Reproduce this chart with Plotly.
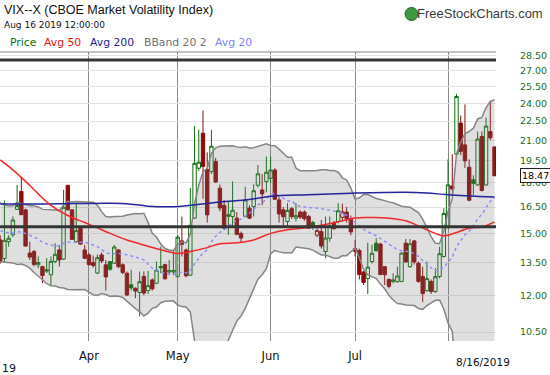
import numpy as np
import pandas as pd
import plotly.graph_objects as go

# ---------------- data ----------------
holidays = ["2019-04-19", "2019-05-27", "2019-07-04"]
dates = [d for d in pd.bdate_range("2019-03-01", "2019-08-16")
         if d.strftime("%Y-%m-%d") not in holidays]

opens = [14.65, 13.70, 14.56, 14.92, 16.36, 17.45, 16.33, 13.97, 14.05, 13.39,
         13.30, 13.15, 12.92, 13.55, 14.13, 13.67, 17.84, 16.33, 14.56, 15.38,
         14.13, 13.88, 13.50, 13.00, 13.88, 13.39, 13.55, 13.47, 14.13, 13.39,
         12.99, 12.46, 12.30, 12.12, 12.84, 12.20, 12.68, 12.53, 13.31, 13.40,
         13.05, 13.05, 12.83, 14.60, 14.13, 12.90, 15.85, 18.98, 21.54, 18.90,
         18.75, 19.44, 17.66, 16.60, 16.05, 15.94, 15.85, 15.00, 15.94, 16.43,
         16.53, 17.85, 17.55, 18.09, 18.30, 18.86, 16.93, 16.33, 15.66, 16.40,
         15.85, 16.20, 16.20, 15.94, 15.60, 14.90, 15.10, 14.05, 14.74, 15.56,
         15.66, 15.90, 16.20, 15.80, 14.20, 14.10, 13.05, 12.75, 13.55, 14.48,
         14.43, 13.30, 12.70, 12.60, 12.60, 12.61, 14.48, 13.30, 14.60, 13.47,
         12.84, 12.20, 12.61, 12.16, 12.84, 13.80, 15.38, 17.80, 19.97, 22.34,
         20.65, 19.05, 18.20, 17.87, 21.28, 17.87, 21.67, 20.50]
highs = [14.90, 16.90, 14.90, 15.95, 17.87, 18.40, 16.40, 14.56, 14.13, 13.80,
         13.35, 13.72, 13.80, 14.48, 14.39, 17.55, 17.87, 16.35, 16.73, 15.40,
         14.39, 13.97, 13.85, 13.90, 14.00, 13.63, 13.55, 14.39, 14.17, 13.47,
         13.07, 13.15, 12.35, 13.07, 13.07, 13.10, 12.75, 13.55, 14.30, 13.45,
         13.63, 14.13, 14.90, 15.94, 14.20, 17.66, 22.10, 21.80, 23.38, 20.10,
         21.80, 19.70, 17.90, 16.93, 16.83, 18.10, 16.20, 15.10, 17.75, 16.60,
         17.90, 19.20, 18.60, 19.80, 19.80, 18.98, 17.10, 16.50, 16.73, 16.50,
         16.73, 16.30, 16.30, 16.04, 15.70, 15.28, 15.75, 15.94, 15.94, 15.70,
         16.73, 16.70, 16.50, 16.00, 14.65, 14.20, 13.10, 14.50, 14.40, 14.75,
         14.50, 13.30, 12.75, 12.99, 13.30, 14.00, 14.70, 14.70, 14.65, 13.55,
         13.30, 13.55, 12.70, 13.23, 14.30, 16.43, 19.60, 19.97, 24.81, 22.95,
         23.90, 19.60, 18.50, 21.67, 21.67, 22.80, 24.20, 20.50]
lows = [13.45, 13.50, 14.30, 14.80, 16.33, 16.03, 14.30, 13.63, 13.31, 13.23,
        12.53, 13.00, 12.41, 13.47, 13.31, 13.63, 16.30, 14.65, 14.50, 14.39,
        13.67, 13.35, 13.25, 12.95, 13.47, 12.20, 13.10, 13.43, 13.23, 12.95,
        11.96, 12.20, 11.87, 11.12, 12.00, 12.05, 12.20, 12.50, 12.99, 12.70,
        12.90, 12.90, 12.80, 13.80, 12.80, 12.87, 15.80, 18.80, 17.00, 15.60,
        18.60, 18.00, 16.25, 15.20, 14.92, 15.37, 14.90, 14.50, 15.90, 15.80,
        15.94, 17.70, 16.60, 17.40, 18.00, 16.93, 15.60, 15.37, 15.37, 15.80,
        15.66, 15.80, 15.70, 15.28, 15.20, 14.80, 14.20, 13.71, 14.56, 15.20,
        15.56, 15.75, 15.60, 14.90, 13.80, 12.70, 12.45, 12.05, 13.45, 14.05,
        12.90, 12.45, 12.30, 12.53, 12.55, 12.58, 13.50, 13.25, 13.40, 12.55,
        11.70, 12.15, 12.05, 12.10, 12.75, 13.75, 15.25, 17.24, 19.90, 19.90,
        19.00, 16.85, 17.24, 17.80, 17.45, 17.80, 21.00, 18.45]
closes = [13.57, 14.63, 14.74, 15.74, 16.59, 16.05, 14.33, 13.77, 13.41, 13.50,
          12.88, 13.10, 13.56, 13.91, 13.63, 16.48, 16.33, 14.68, 15.15, 14.43,
          13.71, 13.40, 13.36, 13.74, 13.58, 12.82, 13.18, 14.28, 13.30, 13.02,
          12.01, 12.32, 12.18, 12.60, 12.09, 12.42, 12.28, 13.14, 13.25, 12.73,
          13.11, 13.12, 14.80, 14.42, 12.87, 15.44, 19.32, 19.40, 19.10, 16.04,
          20.55, 18.06, 16.44, 15.29, 15.96, 16.31, 14.95, 14.75, 16.92, 15.85,
          17.50, 18.60, 17.30, 18.71, 18.86, 16.97, 16.09, 15.93, 16.30, 15.94,
          15.99, 15.91, 15.82, 15.28, 15.35, 15.15, 14.33, 14.75, 15.40, 15.26,
          16.28, 16.21, 15.82, 15.08, 14.06, 12.93, 12.57, 13.28, 13.96, 14.09,
          12.93, 12.92, 12.39, 12.68, 12.86, 13.97, 13.53, 14.45, 13.53, 12.61,
          12.07, 12.74, 12.16, 12.83, 13.94, 16.12, 17.87, 17.61, 24.59, 20.17,
          19.49, 16.91, 17.97, 21.09, 17.52, 22.10, 21.18, 18.47]
# closes before the window (Feb 2019), needed for the 20-day band
feb_closes = [16.14, 15.73, 15.57, 15.38, 16.37, 15.72, 15.97, 15.43, 15.65, 16.22,
              14.91, 14.88, 14.02, 14.46, 13.51, 14.85, 15.17, 14.70, 14.78]

# moving averages (trading-day index, value)
sma50_idx = [0, 3, 6, 9, 12, 16, 20, 23, 26, 30, 33, 38, 42, 45, 49, 52, 56, 60, 64,
             68, 72, 76, 80, 84, 88, 92, 96, 100, 103, 105, 108, 111, 114, 117]
sma50_val = [19.56, 18.87, 18.10, 17.30, 16.60, 16.00, 15.60, 15.30, 15.00, 14.65,
             14.45, 14.14, 13.95, 14.05, 14.25, 14.45, 14.50, 14.65, 15.00, 15.20,
             15.30, 15.45, 15.64, 15.86, 15.88, 15.85, 15.70, 15.30, 15.00, 14.87,
             15.05, 15.30, 15.35, 15.64]
sma200_idx = [0, 10, 26, 30, 35, 41, 45, 52, 59, 64, 73, 84, 96, 101, 106, 117]
sma200_val = [16.68, 16.68, 16.73, 16.70, 16.55, 16.52, 16.60, 16.80, 16.95, 17.15,
              17.25, 17.35, 17.40, 17.35, 17.25, 17.10]

hlines = [28.06, 15.37]
ytick_vals = [10.5, 12.0, 13.5, 15.0, 16.5, 18.0, 19.5, 21.0, 22.5, 24.0, 25.5, 27.0, 28.5]
last_price = 18.47

# ---------------- derived ----------------
n = len(closes)
idx = np.arange(n)
o = np.array(opens); h = np.array(highs); l = np.array(lows); c = np.array(closes)
allc = pd.Series(feb_closes + closes)
mid = allc.rolling(20).mean().values[19:]
sd = allc.rolling(20).std(ddof=0).values[19:]
upper = mid + 2 * sd
lower = mid - 2 * sd
prev = np.r_[feb_closes[-1], c[:-1]]
up = c >= prev

month_starts = []
for i, d in enumerate(dates):
    if i == 0 or d.month != dates[i - 1].month:
        month_starts.append(i)
month_text = ["" if (i == 0 or dates[i].month == 8) else dates[i].strftime("%b")
              for i in month_starts]

GREEN = "#0a6e0a"
RED = "#8b0a0a"
fig = go.Figure()

# Bollinger band
fig.add_trace(go.Scatter(x=idx, y=upper, mode="lines",
                         line=dict(color="#858585", width=1.5), hoverinfo="skip"))
fig.add_trace(go.Scatter(x=idx, y=lower, mode="lines", fill="tonexty",
                         fillcolor="rgba(120,120,120,0.24)",
                         line=dict(color="#858585", width=1.5), hoverinfo="skip"))
# averages
fig.add_trace(go.Scatter(x=idx, y=mid, mode="lines",
                         line=dict(color="#8c8cff", width=1.5, dash="3px,3px"),
                         hoverinfo="skip"))
fig.add_trace(go.Scatter(x=sma200_idx, y=sma200_val, mode="lines", line_shape="spline",
                         line=dict(color="#23239a", width=1.5), hoverinfo="skip"))
fig.add_trace(go.Scatter(x=sma50_idx, y=sma50_val, mode="lines", line_shape="spline",
                         line=dict(color="#f02828", width=1.5), hoverinfo="skip"))


def candles(mask, color):
    return go.Candlestick(
        x=idx[mask], open=o[mask], high=h[mask], low=l[mask], close=c[mask],
        increasing=dict(line=dict(color=color, width=1), fillcolor="rgba(0,0,0,0)"),
        decreasing=dict(line=dict(color=color, width=1), fillcolor=color),
        whiskerwidth=0, hoverinfo="skip", showlegend=False)


fig.add_trace(candles(up, GREEN))
fig.add_trace(candles(~up, RED))

for v in hlines:
    fig.add_trace(go.Scatter(x=[-1, n + 1], y=[v, v], mode="lines",
                             line=dict(color="#353535", width=3), hoverinfo="skip"))

W_PLOT = 496.0
H_TOP, H_BOT = 52.0, 341.0


def px_x(x):
    return x / W_PLOT


def px_y(y):
    return (H_BOT - y) / (H_BOT - H_TOP)


ann = []
ann.append(dict(text="VIX--X (CBOE Market Volatility Index)", x=px_x(2), y=px_y(10),
                xanchor="left", yanchor="middle",
                font=dict(family="Liberation Sans", size=12.5, color="#111")))
ann.append(dict(text="Aug 16 2019 12:00:00", x=px_x(2), y=px_y(25),
                xanchor="left", yanchor="middle",
                font=dict(family="DejaVu Sans", size=9, color="#111")))
legend_items = [("Price", 8, "#0a6e0a"), ("Avg 50", 42, "#f01010"),
                ("Avg 200", 88, "#1c1c8c"), ("BBand 20 2", 141.5, "#707070"),
                ("Avg 20", 213, "#8080ff")]
for t, xp, col in legend_items:
    ann.append(dict(text=t, x=px_x(xp), y=px_y(43), xanchor="left", yanchor="middle",
                    font=dict(family="DejaVu Sans", size=10.8, color=col)))
ann.append(dict(text="FreeStockCharts.com", x=px_x(545), y=px_y(14),
                xanchor="right", yanchor="middle",
                font=dict(family="Liberation Sans", size=13, color="#3a3a3a")))
ann.append(dict(text="8/16/2019", x=px_x(482.5), y=px_y(362), xanchor="center",
                yanchor="middle", font=dict(family="DejaVu Sans", size=10.5, color="#111")))
ann.append(dict(text="19", x=px_x(0), y=px_y(368), xanchor="left", yanchor="middle",
                font=dict(family="DejaVu Sans", size=11, color="#111")))
ann.append(dict(text="%.2f" % last_price, x=px_x(519.5), y=np.log10(last_price), yref="y",
                xanchor="left", yanchor="middle", bgcolor="white",
                bordercolor="#222", borderwidth=1, borderpad=1,
                font=dict(family="DejaVu Sans", size=9.5, color="#000")))
for a in ann:
    a.setdefault("xref", "paper")
    a.setdefault("yref", "paper")
    a["showarrow"] = False

shapes = [
    dict(type="line", xref="paper", yref="paper", x0=0, x1=1, y0=1, y1=1,
         line=dict(color="#8a8a8a", width=1)),
    dict(type="circle", xref="paper", yref="paper", x0=px_x(405), x1=px_x(418),
         y0=px_y(20.5), y1=px_y(7.5), fillcolor="#3f9a3f",
         line=dict(color="#22602a", width=1)),
]

fig.update_layout(
    width=550, height=375, autosize=False,
    margin=dict(l=0, r=550 - W_PLOT, t=H_TOP, b=375 - H_BOT),
    paper_bgcolor="white", plot_bgcolor="white",
    showlegend=False, hovermode=False,
    boxgap=0.2, boxgroupgap=0.0,
    annotations=ann, shapes=shapes,
    xaxis=dict(range=[-0.05, 117.35], rangeslider=dict(visible=False),
               tickmode="array", tickvals=month_starts, ticktext=month_text,
               showgrid=True, gridcolor="#8a8a8a", gridwidth=1,
               zeroline=False, showline=False, ticks="outside", ticklen=4,
               tickcolor="rgba(0,0,0,0)",
               tickfont=dict(family="DejaVu Sans", size=11.5, color="#111")),
    yaxis=dict(type="log", range=[np.log10(10.17), np.log10(28.88)], side="right",
               tickmode="array", tickvals=ytick_vals,
               ticktext=["%.2f" % v for v in ytick_vals],
               showgrid=True, gridcolor="#e2e2e2", gridwidth=1,
               zeroline=False, showline=False, ticks="outside", ticklen=21,
               tickcolor="rgba(0,0,0,0)",
               tickfont=dict(family="DejaVu Sans", size=9.5, color="#1c6b1c")),
)

fig.write_html("out.html", config={"displayModeBar": False},
               post_script="document.body.style.margin='0';")
